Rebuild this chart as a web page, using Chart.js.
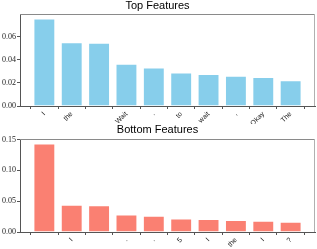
<!DOCTYPE html>
<html><head><meta charset="utf-8">
<script src="https://cdn.jsdelivr.net/npm/chart.js@4/dist/chart.umd.min.js"></script>
<style>
html,body{margin:0;padding:0;background:#fff;width:317px;height:249px;overflow:hidden}
canvas{position:absolute;left:0}
#c1{top:0}
#c2{top:124px}
</style></head><body>
<canvas id="c1" width="317" height="124"></canvas>
<canvas id="c2" width="317" height="125"></canvas>
<script>
const topLabels = ["I", "the", " ", "Wait", ".", "to", "wait", ",", "Okay", "The"];
const topValues = [0.0760, 0.0554, 0.0549, 0.0366, 0.0334, 0.0291, 0.0277, 0.0263, 0.0251, 0.0223];
const topYTicks = [0, 0.02, 0.04, 0.06];

const bottomLabels = [" ", "I", " ", ".", ".", "5", "I", "the", "I", "?"];
const bottomValues = [0.1435, 0.0441, 0.0435, 0.0284, 0.0263, 0.0220, 0.0210, 0.0194, 0.0182, 0.0166];
const bottomYTicks = [0, 0.05, 0.10, 0.15];

const boxPlugin = {
  id: 'box',
  afterDraw(chart) {
    const a = chart.chartArea, ctx = chart.ctx;
    ctx.save();
    ctx.lineWidth = 1;
    ctx.strokeStyle = '#8a8a8a';
    ctx.beginPath();
    ctx.moveTo(a.left, a.top + 0.5); ctx.lineTo(a.right, a.top + 0.5);
    ctx.stroke();
    ctx.strokeStyle = '#b0b0b0';
    ctx.beginPath();
    ctx.moveTo(a.right - 0.5, a.top); ctx.lineTo(a.right - 0.5, a.bottom);
    ctx.stroke();
    ctx.restore();
  }
};

function makeChart(id, title, labels, values, yTicks, color, xHeight, titleH) {
  const n = values.length;
  const ymax = Math.max(...values) * 1.05;
  const pts = values.map((v, i) => ({x: i, y: v}));
  return new Chart(document.getElementById(id), {
    type: 'bar',
    data: { datasets: [{ data: pts, backgroundColor: color, borderColor: 'rgba(255,255,255,0.35)', borderWidth: 1,
      barPercentage: 0.8, categoryPercentage: 1.0 }] },
    options: {
      responsive: false, animation: false,
      layout: { padding: { left: 0, right: 2, top: 0, bottom: 0 } },
      plugins: {
        legend: { display: false }, tooltip: { enabled: false },
        title: { display: true, text: title, color: '#000',
          font: { family: 'Liberation Sans', size: 11, weight: 'normal', lineHeight: 1.0 },
          padding: { top: 0, bottom: titleH - 11 } }
      },
      scales: {
        x: {
          type: 'linear', min: -0.89, max: (n - 1) + 0.89, offset: false,
          afterBuildTicks(s) { s.ticks = labels.map((l, i) => ({ value: i })); },
          afterFit(s) { s.height = xHeight; },
          grid: { display: true, drawOnChartArea: false, tickLength: 3, color: '#555' },
          border: { display: true, color: '#555', width: 1 },
          ticks: { autoSkip: false, minRotation: 45, maxRotation: 45, padding: 1, color: '#222',
            font: { family: 'Liberation Sans', size: 7 },
            callback: (v) => labels[Math.round(v)] }
        },
        y: {
          min: 0, max: ymax,
          afterBuildTicks(s) { s.ticks = yTicks.map(v => ({ value: v })); },
          afterFit(s) { s.width = 20; },
          grid: { display: true, drawOnChartArea: false, tickLength: 3, color: '#555' },
          border: { display: true, color: '#555', width: 1 },
          ticks: { padding: 1, color: '#222', font: { family: 'Liberation Serif', size: 8 },
            callback: (v) => Number(v).toFixed(2) }
        }
      }
    },
    plugins: [boxPlugin]
  });
}

makeChart('c1', 'Top Features', topLabels, topValues, topYTicks, '#87CEEB', 18, 14);
makeChart('c2', 'Bottom Features', bottomLabels, bottomValues, bottomYTicks, '#FA8072', 17, 15);
</script>
</body></html>
